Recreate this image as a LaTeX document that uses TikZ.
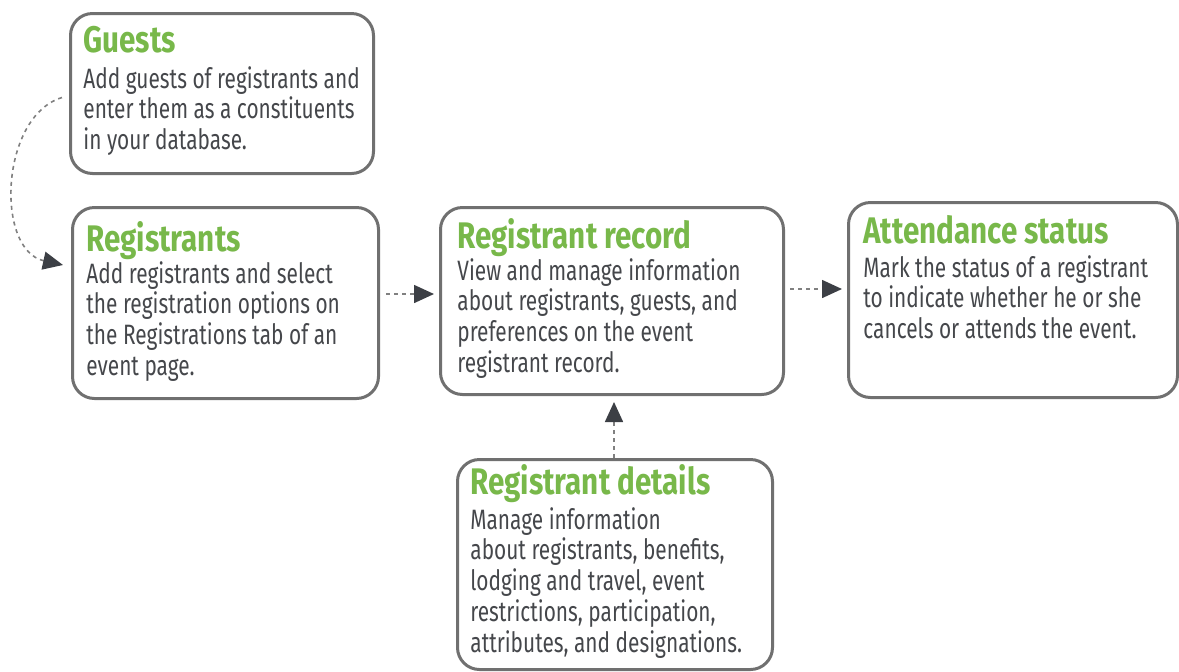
\documentclass[tikz,border=0pt]{standalone}
\usepackage{fontspec}
\setmainfont{Fira Sans}[FakeStretch=0.745]
\newfontfamily\headfont{Fira Sans}[FakeStretch=0.8]
\usetikzlibrary{calc,arrows.meta,positioning}
\usepackage{xcolor}
\definecolor{boxgray}{HTML}{707070}
\definecolor{headgreen}{HTML}{78B84A}
\definecolor{bodygray}{HTML}{45474B}
\definecolor{linegray}{HTML}{808080}
\definecolor{tipgray}{HTML}{3C3F45}

\begin{document}
\begin{tikzpicture}[x=0.5pt, y=-0.5pt, >={Triangle[length=10pt,width=9pt,color=tipgray]}]
      \tikzset{
	  card/.style={draw=boxgray, line width=1.5pt, rounded corners=11pt, anchor=north west, inner sep=0pt},
	  head/.style={anchor=base west, inner sep=0pt, text=headgreen, font=\headfont\fontsize{18.5}{20}\selectfont\bfseries},
	  body/.style={anchor=north west, inner sep=0pt, align=left, text=bodygray, font=\fontsize{14}{15.35}\selectfont},
	  flow/.style={draw=linegray, line width=0.8pt, dash pattern=on 2pt off 2pt, ->},
      }
      \useasboundingbox (0,0) rectangle (1179,671);

      % boxes
      \node (guests) at (69,12) [card, minimum width=151.5pt, minimum height=80pt] {};
      \node (regs) at (71,206) [card, minimum width=153pt, minimum height=95.5pt] {};
      \node (record) at (439,206) [card, minimum width=171.5pt, minimum height=93.5pt] {};
      \node (attend) at (847,201) [card, minimum width=164.5pt, minimum height=97.5pt] {};
      \node (details) at (456,458) [card, minimum width=157.5pt, minimum height=105pt] {};

      % texts
      \node (guests-h) at (83,52) [head] {Guests};
      \node (guests-b) at (83,66) [body] {Add guests of registrants and\\enter them as a constituents\\in your database.};

      \node (regs-h) at (86,251) [head] {Registrants};
      \node (regs-b) at (86,261) [body] {Add registrants and select\\the registration options on\\the Registrations tab of an\\event page.};

      \node (record-h) at (457,248) [head] {Registrant record};
      \node (record-b) at (457,258) [body] {View and manage information\\about registrants, guests, and\\preferences on the event\\registrant record.};

      \node (attend-h) at (863,243) [head] {Attendance status};
      \node (attend-b) at (863,255) [body] {Mark the status of a registrant\\to indicate whether he or she\\cancels or attends the event.};

      \node (details-h) at (470,494) [head] {Registrant details};
      \node (details-b) at (470,507) [body] {Manage information\\about registrants, benefits,\\lodging and travel, event\\restrictions, participation,\\attributes, and designations.};

      % connectors
      \draw [flow] ($(guests.west)+(-7,4)$) .. controls +(-62,19) and +(-68,-15) .. ($(regs.north west)+(-8,59)$);
      \draw [flow] ($(regs.east)+(6,-9)$) -- ($(record.west)+(-5,-7)$);
      \draw [flow] ($(record.east)+(5,-12)$) -- ($(attend.west)+(-5,-11)$);
      \draw [flow] (details.north -| 614,0) -- ($(record.south -| 614,0)+(0,6)$);
    \end{tikzpicture}
\end{document}
